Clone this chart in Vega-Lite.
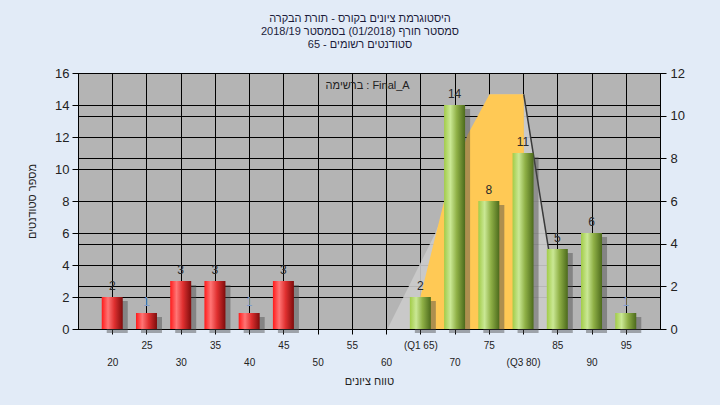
{
  "$schema": "https://vega.github.io/schema/vega-lite/v6.json",
  "width": 582,
  "height": 256,
  "autosize": {"type": "none"},
  "padding": {"left": 78, "top": 73, "right": 60, "bottom": 76},
  "background": "#e2ebf7",
  "title": {
    "text": ["היסטוגרמת ציונים בקורס - תורת הבקרה", "2018/19 סמסטר חורף  (01/2018)  בסמסטר", "65 - סטודנטים רשומים"],
    "anchor": "middle",
    "font": "Liberation Sans",
    "fontSize": 11,
    "fontWeight": "normal",
    "color": "#1b1b3a",
    "lineHeight": 13,
    "offset": 17,
    "dx": -9
  },
  "config": {
    "view": {"fill": "#b4b4b4", "stroke": "#000000", "strokeWidth": 1}
  },
  "datasets": {
    "bars": [
      {"x": 20, "count": 2}, {"x": 25, "count": 1}, {"x": 30, "count": 3}, {"x": 35, "count": 3},
      {"x": 40, "count": 1}, {"x": 45, "count": 3}, {"x": 50, "count": 0}, {"x": 55, "count": 0},
      {"x": 60, "count": 0}, {"x": 65, "count": 2}, {"x": 70, "count": 14}, {"x": 75, "count": 8},
      {"x": 80, "count": 11}, {"x": 85, "count": 5}, {"x": 90, "count": 6}, {"x": 95, "count": 1}
    ],
    "front": [
      {"x": 63.8, "v": 0}, {"x": 65, "v": 1.5}, {"x": 68.4, "v": 5.9}, {"x": 71.9, "v": 9.1},
      {"x": 75.1, "v": 11}, {"x": 80.1, "v": 11}, {"x": 80.2, "v": 0}
    ],
    "side": [
      {"x": 60.2, "v": 0}, {"x": 67.2, "v": 4.5}, {"x": 75.1, "v": 11}, {"x": 80.1, "v": 11}, {"x": 85.6, "v": 0}
    ],
    "edge": [
      {"x": 80.1, "v": 11}, {"x": 85.6, "v": 0}
    ],
    "legend": [
      {"x": 57.3, "count": 15.2, "label": "ברשימה : Final_A"}
    ]
  },
  "encoding": {
    "x": {
      "field": "x",
      "type": "quantitative",
      "title": "טווח ציונים",
      "scale": {"domain": [15, 100], "nice": false, "zero": false, "padding": 0},
      "axis": {
        "values": [20, 25, 30, 35, 40, 45, 50, 55, 60, 65, 70, 75, 80, 85, 90, 95],
        "grid": true,
        "gridColor": "#000000",
        "gridWidth": 1,
        "gridOpacity": 1,
        "domainColor": "#000000",
        "tickColor": "#000000",
        "tickSize": 5,
        "labelFont": "Liberation Sans",
        "labelFontSize": 10,
        "labelColor": "#222222",
        "labelPadding": {"condition": {"test": "datum.value % 10 == 0", "value": 23}, "value": 6},
        "labelExpr": "datum.value == 65 ? '(Q1 65)' : datum.value == 80 ? '(Q3 80)' : datum.label",
        "labelOverlap": false,
        "labelBound": false,
        "labelFlush": false,
        "titleFont": "Liberation Sans",
        "titleFontSize": 11,
        "titleFontWeight": "normal",
        "titleColor": "#222222",
        "titlePadding": 8
      }
    }
  },
  "layer": [
    {
      "encoding": {
        "y": {
          "field": "v",
          "type": "quantitative",
          "scale": {"domain": [0, 12], "nice": false},
          "axis": {
            "orient": "right",
            "values": [0, 2, 4, 6, 8, 10, 12],
            "title": null,
            "grid": true,
            "gridColor": "#000000",
            "gridWidth": 1,
            "gridOpacity": 1,
            "domainColor": "#000000",
            "tickColor": "#000000",
            "tickSize": 6,
            "labelPadding": 4,
            "labelFont": "Liberation Sans",
            "labelFontSize": 13,
            "labelColor": "#222222"
          }
        }
      },
      "layer": [
        {"data": {"name": "side"}, "mark": {"type": "area", "color": "#cbcbcb", "opacity": 0.9}},
        {"data": {"name": "front"}, "mark": {"type": "area", "color": "#ffc955", "opacity": 1}},
        {"data": {"name": "edge"}, "mark": {"type": "line", "color": "#3a3a3a", "strokeWidth": 1.5}}
      ]
    },
    {
      "encoding": {
        "y": {
          "field": "count",
          "type": "quantitative",
          "scale": {"domain": [0, 16], "nice": false},
          "axis": {
            "orient": "left",
            "values": [0, 2, 4, 6, 8, 10, 12, 14, 16],
            "title": "מספר סטודנטים",
            "grid": true,
            "gridColor": "#000000",
            "gridWidth": 1,
            "gridOpacity": 1,
            "domainColor": "#000000",
            "tickColor": "#000000",
            "tickSize": 6,
            "labelPadding": 3,
            "labelFont": "Liberation Sans",
            "labelFontSize": 13,
            "labelColor": "#222222",
            "titleFont": "Liberation Sans",
            "titleFontSize": 11,
            "titleFontWeight": "normal",
            "titleColor": "#222222",
            "titlePadding": 17
          }
        }
      },
      "layer": [
        {
          "data": {"name": "bars"},
          "transform": [{"filter": "datum.count > 0"}],
          "mark": {"type": "bar", "size": 21, "color": "#4a4a4a", "opacity": 0.45, "xOffset": 5, "yOffset": 4, "y2Offset": 4}
        },
        {
          "data": {"name": "bars"},
          "transform": [{"filter": "datum.count > 0 && datum.x < 60"}],
          "mark": {
            "type": "bar",
            "size": 21,
            "color": {
              "gradient": "linear", "x1": 0, "x2": 1, "y1": 0, "y2": 0,
              "stops": [
                {"offset": 0, "color": "#ff1a1a"},
                {"offset": 0.3, "color": "#ff7575"},
                {"offset": 0.6, "color": "#e03030"},
                {"offset": 1, "color": "#7e0c0c"}
              ]
            }
          }
        },
        {
          "data": {"name": "bars"},
          "transform": [{"filter": "datum.count > 0 && datum.x >= 60"}],
          "mark": {
            "type": "bar",
            "size": 21,
            "color": {
              "gradient": "linear", "x1": 0, "x2": 1, "y1": 0, "y2": 0,
              "stops": [
                {"offset": 0, "color": "#a2cc48"},
                {"offset": 0.3, "color": "#cae895"},
                {"offset": 0.6, "color": "#8fb046"},
                {"offset": 1, "color": "#4c6a1c"}
              ]
            }
          }
        },
        {
          "data": {"name": "bars"},
          "transform": [{"filter": "datum.count > 0"}],
          "mark": {"type": "text", "baseline": "bottom", "dy": -4, "font": "Liberation Sans", "fontSize": 12},
          "encoding": {
            "text": {"field": "count", "type": "quantitative"},
            "color": {"condition": {"test": "datum.count == 1", "value": "#7f9ccc"}, "value": "#2a2a2a"}
          }
        },
        {
          "data": {"name": "legend"},
          "mark": {"type": "text", "font": "Liberation Sans", "fontSize": 11, "color": "#222222"},
          "encoding": {
            "text": {"field": "label", "type": "nominal"}
          }
        }
      ]
    }
  ],
  "resolve": {"scale": {"y": "independent"}, "axis": {"y": "independent"}}
}
